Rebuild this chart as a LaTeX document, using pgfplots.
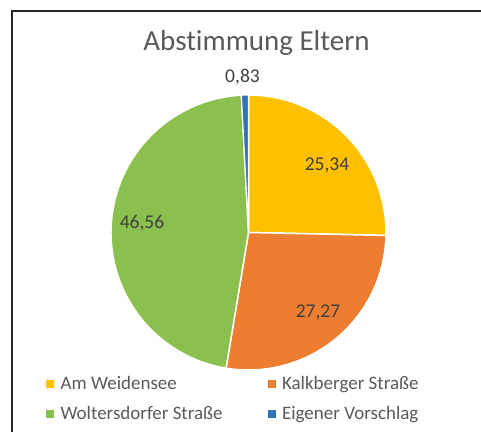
\documentclass[border=0pt]{standalone}
\usepackage{fontspec}
\setmainfont{Carlito}[Ligatures=NoCommon]
\usepackage{pgfplots}
\usepackage{pgfplotstable}
\pgfplotsset{compat=1.18}
\definecolor{cyellow}{HTML}{FFC000}
\definecolor{corange}{HTML}{ED7D31}
\definecolor{cgreen}{HTML}{8CC04E}
\definecolor{cblue}{HTML}{2E75B6}
\definecolor{ctext}{HTML}{595959}
\definecolor{clabel}{HTML}{404040}
\pgfplotstableread{
name value
Weidensee 25.34
Kalkberger 27.27
Woltersdorfer 46.56
Eigener 0.83
}\piedata
\begin{document}
\begin{tikzpicture}
\useasboundingbox (0,0) rectangle (481pt,432pt);
\pgfplotstablegetelem{0}{value}\of\piedata \let\vA\pgfplotsretval
\pgfplotstablegetelem{1}{value}\of\piedata \let\vB\pgfplotsretval
\pgfplotstablegetelem{2}{value}\of\piedata \let\vC\pgfplotsretval
\pgfplotstablegetelem{3}{value}\of\piedata \let\vD\pgfplotsretval
\pgfmathsetmacro\aA{90}
\pgfmathsetmacro\aB{\aA-3.6*\vA}
\pgfmathsetmacro\aC{\aB-3.6*\vB}
\pgfmathsetmacro\aD{\aC-3.6*\vC}
\pgfmathsetmacro\aE{\aD-3.6*\vD}
\draw[black!85, line width=1.8pt] (12pt,0pt) -- (12pt,421pt) -- (481pt,421pt);
\begin{axis}[
  at={(0pt,0pt)}, anchor=south west,
  x=1pt, y=1pt, xmin=0, xmax=481, ymin=0, ymax=432,
  hide axis, clip=false,
  legend columns=2,
  legend cell align=left,
  legend image code/.code={\fill[#1] (0pt,-3.5pt) rectangle (7pt,3.5pt); \path (12pt,0pt);},
  legend style={draw=none, fill=none, at={(axis cs:43,59.5)}, anchor=north west,
    font=\fontsize{19}{22}\selectfont, text=ctext,
    /tikz/every even column/.append style={column sep=43pt},
    /tikz/row sep=10.5pt},
]
\fill[cyellow, draw=white, line width=1.5pt] (axis cs:248.5,199.5) -- ++(\aA:137.5pt) arc[start angle=\aA, end angle=\aB, radius=137.5pt] -- cycle;
\fill[corange, draw=white, line width=1.5pt] (axis cs:248.5,199.5) -- ++(\aB:137.5pt) arc[start angle=\aB, end angle=\aC, radius=137.5pt] -- cycle;
\fill[cgreen, draw=white, line width=1.5pt] (axis cs:248.5,199.5) -- ++(\aC:137.5pt) arc[start angle=\aC, end angle=\aD, radius=137.5pt] -- cycle;
\fill[cblue, draw=white, line width=1.2pt] (axis cs:248.5,199.5) -- ++(\aD:137.5pt) arc[start angle=\aD, end angle=\aE, radius=137.5pt] -- cycle;
\addlegendimage{cyellow, fill=cyellow}
\addlegendentry{Am Weidensee}
\addlegendimage{corange, fill=corange}
\addlegendentry{Kalkberger Straße}
\addlegendimage{cgreen, fill=cgreen}
\addlegendentry{Woltersdorfer Straße}
\addlegendimage{cblue, fill=cblue}
\addlegendentry{Eigener Vorschlag}
\node[font=\fontsize{29}{33}\selectfont, text=ctext] at (axis cs:256.5,389) {Abstimmung Eltern};
\node[font=\fontsize{19.5}{22}\selectfont, text=clabel] at (axis cs:327,267) {25,34};
\node[font=\fontsize{19.5}{22}\selectfont, text=clabel] at (axis cs:318,120) {27,27};
\node[font=\fontsize{19.5}{22}\selectfont, text=clabel] at (axis cs:142,209) {46,56};
\node[font=\fontsize{19.5}{22}\selectfont, text=clabel] at (axis cs:242.5,355) {0,83};
\end{axis}
\end{tikzpicture}
\end{document}
